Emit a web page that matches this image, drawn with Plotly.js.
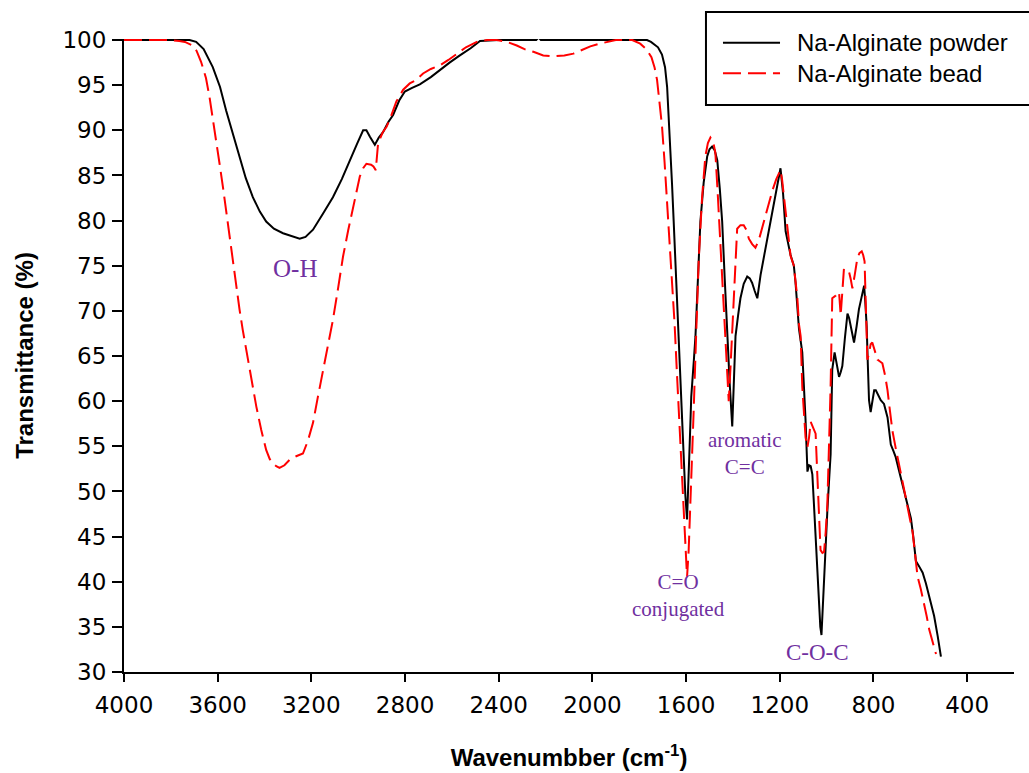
<!DOCTYPE html>
<html>
<head>
<meta charset="utf-8">
<script src="https://cdn.plot.ly/plotly-3.0.1.min.js"></script>
<style>html,body{margin:0;padding:0;background:#fff;}#chart{width:1029px;height:773px;}</style>
</head>
<body>
<div id="chart"></div>
<script>
// Na-Alginate powder (solid black)
const powderWavenumber = [4000,3900,3800,3720,3692,3660,3621,3590,3564,3535,3507,3480,3450,3420,3393,3360,3321,3285,3250,3225,3193,3150,3108,3070,3036,3005,2979,2965,2950,2929,2912,2894,2872,2851,2825,2801,2770,2737,2690,2651,2610,2566,2520,2480,2400,2240,2230,2220,2000,1800,1767,1750,1739,1720,1703,1690,1681,1674,1667,1660,1653,1646,1639,1631,1624,1617,1610,1603,1596,1590,1585,1578,1574,1567,1560,1550,1539,1525,1510,1500,1489,1478,1467,1456,1446,1435,1425,1414,1403,1396,1389,1378,1368,1354,1339,1328,1318,1307,1296,1282,1268,1253,1239,1225,1211,1197,1186,1175,1154,1140,1133,1118,1104,1097,1090,1082,1075,1068,1061,1054,1047,1040,1033,1027,1022,1016,1011,1004,997,990,983,976,966,956,947,940,933,922,911,904,897,890,883,872,862,851,840,835,829,824,819,812,805,797,790,780,769,755,740,733,726,715,705,690,669,655,640,630,619,605,590,576,562,550,541,526,512];
const powderT = [100,100,100,100,99.8,99.0,97.0,94.8,92.2,89.7,87.1,84.7,82.6,81.0,79.9,79.1,78.6,78.3,78.0,78.2,79.0,80.8,82.6,84.6,86.7,88.5,90.0,90.0,89.3,88.4,89.2,89.8,90.9,91.7,93.3,94.3,94.7,95.1,95.9,96.7,97.5,98.3,99.1,99.9,100,100,100.3,100,100,100,100,99.8,99.6,99.2,98.4,97.0,94.8,91.5,88.4,84.0,79.9,75.6,71.4,67.2,63.0,58.3,53.5,49.5,46.9,50.5,55.0,60.5,61.7,64.5,67.2,73.5,79.9,84.2,87.1,87.9,88.2,87.8,86.7,83.5,79.9,73.5,67.2,62.0,57.2,62.0,67.2,69.5,71.4,73.0,73.8,73.6,73.1,72.2,71.4,74.0,76.0,77.8,79.9,82.0,84.0,85.8,83.0,78.8,76.2,75.0,73.2,68.0,65.4,62.0,57.9,52.2,52.9,52.8,51.9,48.5,44.8,41.0,37.3,35.0,34.1,37.5,41.0,44.5,47.8,51.0,54.1,63.5,65.4,64.0,62.7,63.2,63.9,67.0,69.7,69.2,68.3,67.4,66.5,68.3,70.2,71.5,72.8,71.0,68.3,64.0,60.1,58.8,59.8,61.2,61.2,60.6,60.1,59.7,58.2,56.7,55.2,54.5,53.8,52.2,50.0,48.5,47.0,45.0,42.3,41.7,41.0,39.8,38.4,37.3,36.2,34.0,31.7];

// Na-Alginate bead (dashed red)
const beadWavenumber = [4000,3900,3800,3764,3740,3707,3690,3671,3650,3635,3620,3606,3592,3578,3564,3550,3535,3521,3507,3493,3478,3464,3450,3435,3414,3393,3378,3364,3350,3336,3315,3293,3265,3236,3215,3193,3172,3150,3130,3108,3086,3065,3043,3022,3005,2993,2979,2965,2945,2935,2925,2915,2895,2879,2865,2851,2837,2808,2780,2751,2723,2690,2651,2615,2580,2540,2494,2450,2409,2365,2323,2290,2252,2210,2166,2120,2081,2045,2009,1970,1938,1900,1867,1830,1796,1770,1748,1735,1724,1713,1703,1692,1681,1670,1660,1649,1639,1628,1617,1610,1603,1596,1589,1582,1575,1568,1557,1546,1532,1518,1507,1496,1485,1475,1465,1454,1443,1432,1425,1418,1410,1403,1396,1389,1382,1368,1354,1343,1332,1318,1304,1290,1268,1250,1232,1215,1197,1190,1183,1168,1154,1140,1125,1118,1111,1104,1097,1090,1082,1075,1068,1061,1054,1047,1040,1033,1026,1018,1011,1004,997,990,983,976,968,961,954,947,940,933,926,915,904,897,890,880,869,860,850,844,838,832,826,819,812,805,797,790,783,772,762,750,740,730,719,705,690,676,662,648,633,622,612,598,584,573,562,548,533];
const beadT = [100,100,100,99.9,99.8,99.4,98.8,97.6,95.8,93.7,91.3,88.9,86.3,83.8,81.0,78.2,75.4,72.7,70.2,67.9,65.6,63.5,61.4,59.4,56.8,54.6,53.6,53.1,52.8,52.6,52.9,53.5,53.9,54.2,55.6,57.6,60.5,63.5,66.2,69.0,72.5,76.0,78.9,81.5,83.5,84.9,85.8,86.3,86.2,86.0,85.6,88.6,89.8,90.4,91.2,92.2,93.2,94.5,95.2,95.6,96.3,96.8,97.2,97.8,98.5,99.2,99.8,100,100,99.8,99.4,99.0,98.7,98.3,98.2,98.3,98.5,98.9,99.3,99.6,99.8,100,100,100,99.6,99.0,98.1,97.0,95.6,93.0,90.5,86.5,82.0,77.5,73.6,68.5,63.0,57.5,52.4,48.5,44.0,40.5,43.5,48.1,53.5,58.7,67.5,75.7,82.5,87.1,88.6,89.2,88.8,87.5,83.0,77.4,72.0,67.2,63.5,60.0,64.0,68.0,71.4,75.5,79.1,79.5,79.5,79.0,78.0,77.4,77.0,77.8,79.9,81.5,83.3,84.6,85.6,84.5,82.9,79.5,76.1,75.0,71.4,68.5,67.2,61.6,59.0,56.0,54.9,56.0,57.7,57.2,56.8,56.4,52.0,48.5,43.5,43.2,43.3,45.5,48.5,55.0,61.6,71.4,71.6,71.7,72.0,72.1,69.5,72.5,74.7,74.5,74.3,73.5,72.5,74.0,75.8,76.4,76.6,76.2,75.5,70.0,64.6,65.3,66.3,66.5,65.8,65.0,64.6,64.4,64.2,62.8,61.2,59.0,56.7,54.8,53.0,51.2,49.3,47.4,45.5,43.0,40.6,39.2,37.7,36.2,34.7,33.3,32.0];

const seriesNames = ['Na-Alginate powder', 'Na-Alginate bead'];
const xTickVals = [4000,3600,3200,2800,2400,2000,1600,1200,800,400];
const yTickVals = [30,35,40,45,50,55,60,65,70,75,80,85,90,95,100];

// band labels
const bandLabels = ['O-H', 'aromatic<br>C=C', 'C=O<br>conjugated', 'C-O-C'];
const bandX = [3271, 1351, 1633, 1038];
const bandY = [74.75, 54.2, 38.5, 32.2];
const bandSize = [25, 21, 21, 23];

const sans = 'Arial, "Liberation Sans", sans-serif';
const wide = '"DejaVu Sans", Arial, sans-serif';
const serif = '"Times New Roman", "Liberation Serif", serif';
const purple = '#7030A0';

const traces = [
  {x: powderWavenumber, y: powderT, name: seriesNames[0], type: 'scatter', mode: 'lines',
   line: {color: '#000000', width: 2}, showlegend: false},
  {x: beadWavenumber, y: beadT, name: seriesNames[1], type: 'scatter', mode: 'lines',
   line: {color: '#FF0000', width: 2, dash: '18px,7px'}, showlegend: false}
];

const annotations = bandLabels.map((t, i) => ({
  x: bandX[i], y: bandY[i], xref: 'x', yref: 'y', text: t, showarrow: false,
  font: {family: serif, size: bandSize[i], color: purple}, xanchor: 'center', yanchor: 'middle'
}));

// manual legend (box extends past the right edge like the reference)
const legY = [0.9942, 0.9458];
annotations.push(
  {x: 0.7539, y: legY[0], xref: 'paper', yref: 'paper', text: seriesNames[0], showarrow: false,
   xanchor: 'left', yanchor: 'middle', font: {family: sans, size: 24, color: '#000'}},
  {x: 0.7539, y: legY[1], xref: 'paper', yref: 'paper', text: seriesNames[1], showarrow: false,
   xanchor: 'left', yanchor: 'middle', font: {family: sans, size: 24, color: '#000'}}
);
const shapes = [
  {type: 'rect', xref: 'paper', yref: 'paper', x0: 0.6539, x1: 1.05, y0: 0.8957, y1: 1.0427,
   line: {color: '#000', width: 2}, fillcolor: 'rgba(0,0,0,0)'},
  {type: 'line', xref: 'paper', yref: 'paper', x0: 0.673, x1: 0.7371, y0: legY[0], y1: legY[0],
   line: {color: '#000', width: 2}},
  {type: 'line', xref: 'paper', yref: 'paper', x0: 0.673, x1: 0.7371, y0: legY[1], y1: legY[1],
   line: {color: '#FF0000', width: 2, dash: '18px,7px'}}
];

const layout = {
  width: 1029, height: 773,
  margin: {l: 124, r: 15, t: 39, b: 101, pad: 0},
  paper_bgcolor: '#fff', plot_bgcolor: '#fff',
  font: {family: sans, color: '#000'},
  xaxis: {
    range: [4000, 200], tickmode: 'array', tickvals: xTickVals, ticktext: xTickVals.map(String),
    showline: true, linecolor: '#000', linewidth: 2, mirror: false,
    ticks: 'outside', ticklen: 8, tickwidth: 2, tickcolor: '#000',
    showgrid: false, zeroline: false, ticklabelstandoff: 3,
    tickfont: {family: wide, size: 23, color: '#000'},
    title: {text: '<b>Wavenumbber (cm<sup>-1</sup>)</b>', font: {family: sans, size: 24, color: '#000'}, standoff: 33},
    automargin: false
  },
  yaxis: {
    range: [30, 100.12], tickmode: 'array', tickvals: yTickVals, ticktext: yTickVals.map(String),
    showline: true, linecolor: '#000', linewidth: 2, mirror: false,
    ticks: 'outside', ticklen: 10, tickwidth: 2, tickcolor: '#000',
    showgrid: false, zeroline: false, ticklabelstandoff: 1,
    tickfont: {family: wide, size: 23, color: '#000'},
    title: {text: '<b>Transmittance (%)</b>', font: {family: sans, size: 24, color: '#000'}, standoff: 22},
    automargin: false
  },
  annotations: annotations,
  shapes: shapes
};

Plotly.newPlot('chart', traces, layout, {displayModeBar: false, staticPlot: true});
</script>
</body>
</html>
